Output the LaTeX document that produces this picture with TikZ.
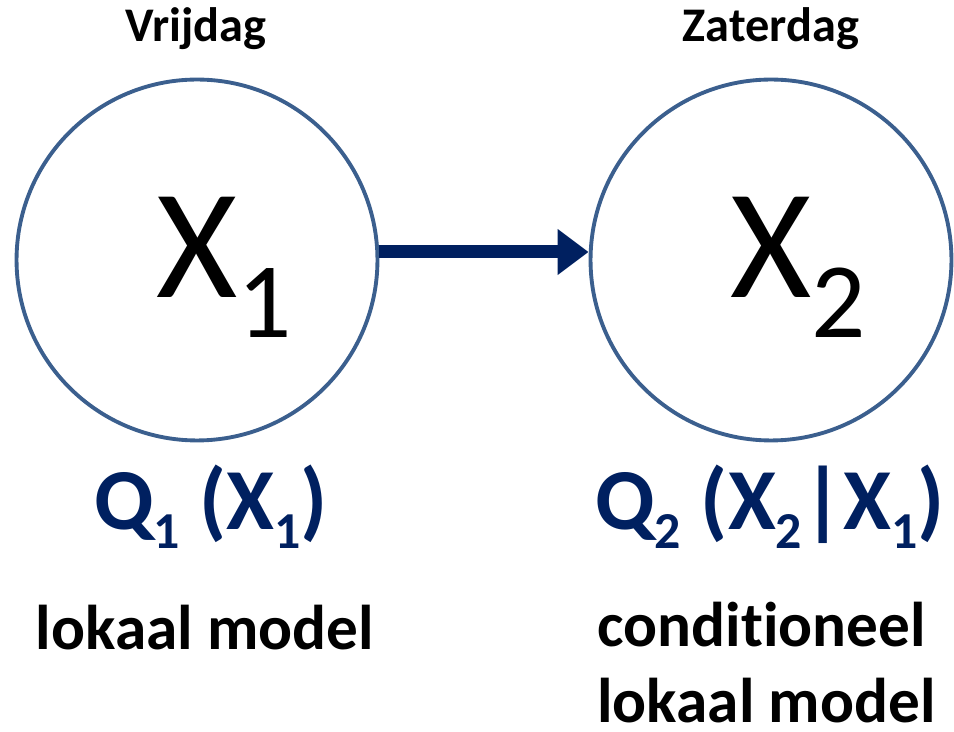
\documentclass[tikz,border=0pt]{standalone}
\usepackage{fontspec}
\setmainfont[Ligatures=NoCommon]{Carlito}
\usepackage{tikz}
\usetikzlibrary{arrows.meta,positioning}

\definecolor{ringblue}{HTML}{3B5F8E}
\definecolor{navy}{HTML}{002060}

% lowered index: size, drop, text
\newcommand{\lowind}[3]{\raisebox{-#2}{\fontsize{#1}{#1}\selectfont #3}}

\begin{document}
\begin{tikzpicture}[
    x=0.02cm, y=-0.02cm,
    state/.style={circle, draw=ringblue, line width=2.2pt, minimum size=7.22cm, inner sep=0pt},
    var/.style={anchor=base, inner sep=0pt, font=\fontsize{89}{89}\selectfont},
    day/.style={anchor=base, inner sep=0pt, font=\fontsize{27.5}{28}\selectfont\bfseries},
    dist/.style={anchor=base, inner sep=0pt, text=navy, font=\fontsize{49.5}{50}\selectfont\bfseries},
    note/.style={anchor=base, inner sep=0pt, font=\fontsize{36}{40}\selectfont\bfseries},
    link/.style={-{Triangle[length=6.2mm, width=8.8mm]}, line width=7.4pt, draw=navy}
]
\useasboundingbox (0,0) rectangle (954,732);

% the two days
\node[state] (c1) at (197,260) {};
\node[state] (c2) at (771,260) {};
\node[var] (x1) at (197,298) {X\rlap{\lowind{61}{0.8cm}{1}}};
\node[var] (x2) at (771,298) {X\rlap{\lowind{61}{0.8cm}{2}}};

\node[day] (fri) at (196,42) {Vrijdag};
\node[day] (sat) at (771,42) {Zaterdag};

\draw[link] ([yshift=0.16cm]c1.east) -- ([yshift=0.16cm]c2.west);

% models under the circles
\node[dist] (q1) at (211,530) {Q\lowind{29.5}{0.38cm}{1} (X\lowind{29.5}{0.38cm}{1})};
\node[dist] (q2) at (770,530) {Q\lowind{29.5}{0.38cm}{2} (X\lowind{29.5}{0.38cm}{2}|X\lowind{29.5}{0.38cm}{1})};

\node[note] (m1) at (205,650) {lokaal model};
\node[note, anchor=base west] (m2a) at (597,647) {conditioneel};
\node[note, anchor=base west] (m2b) at (597,723) {lokaal model};
\end{tikzpicture}
\end{document}
